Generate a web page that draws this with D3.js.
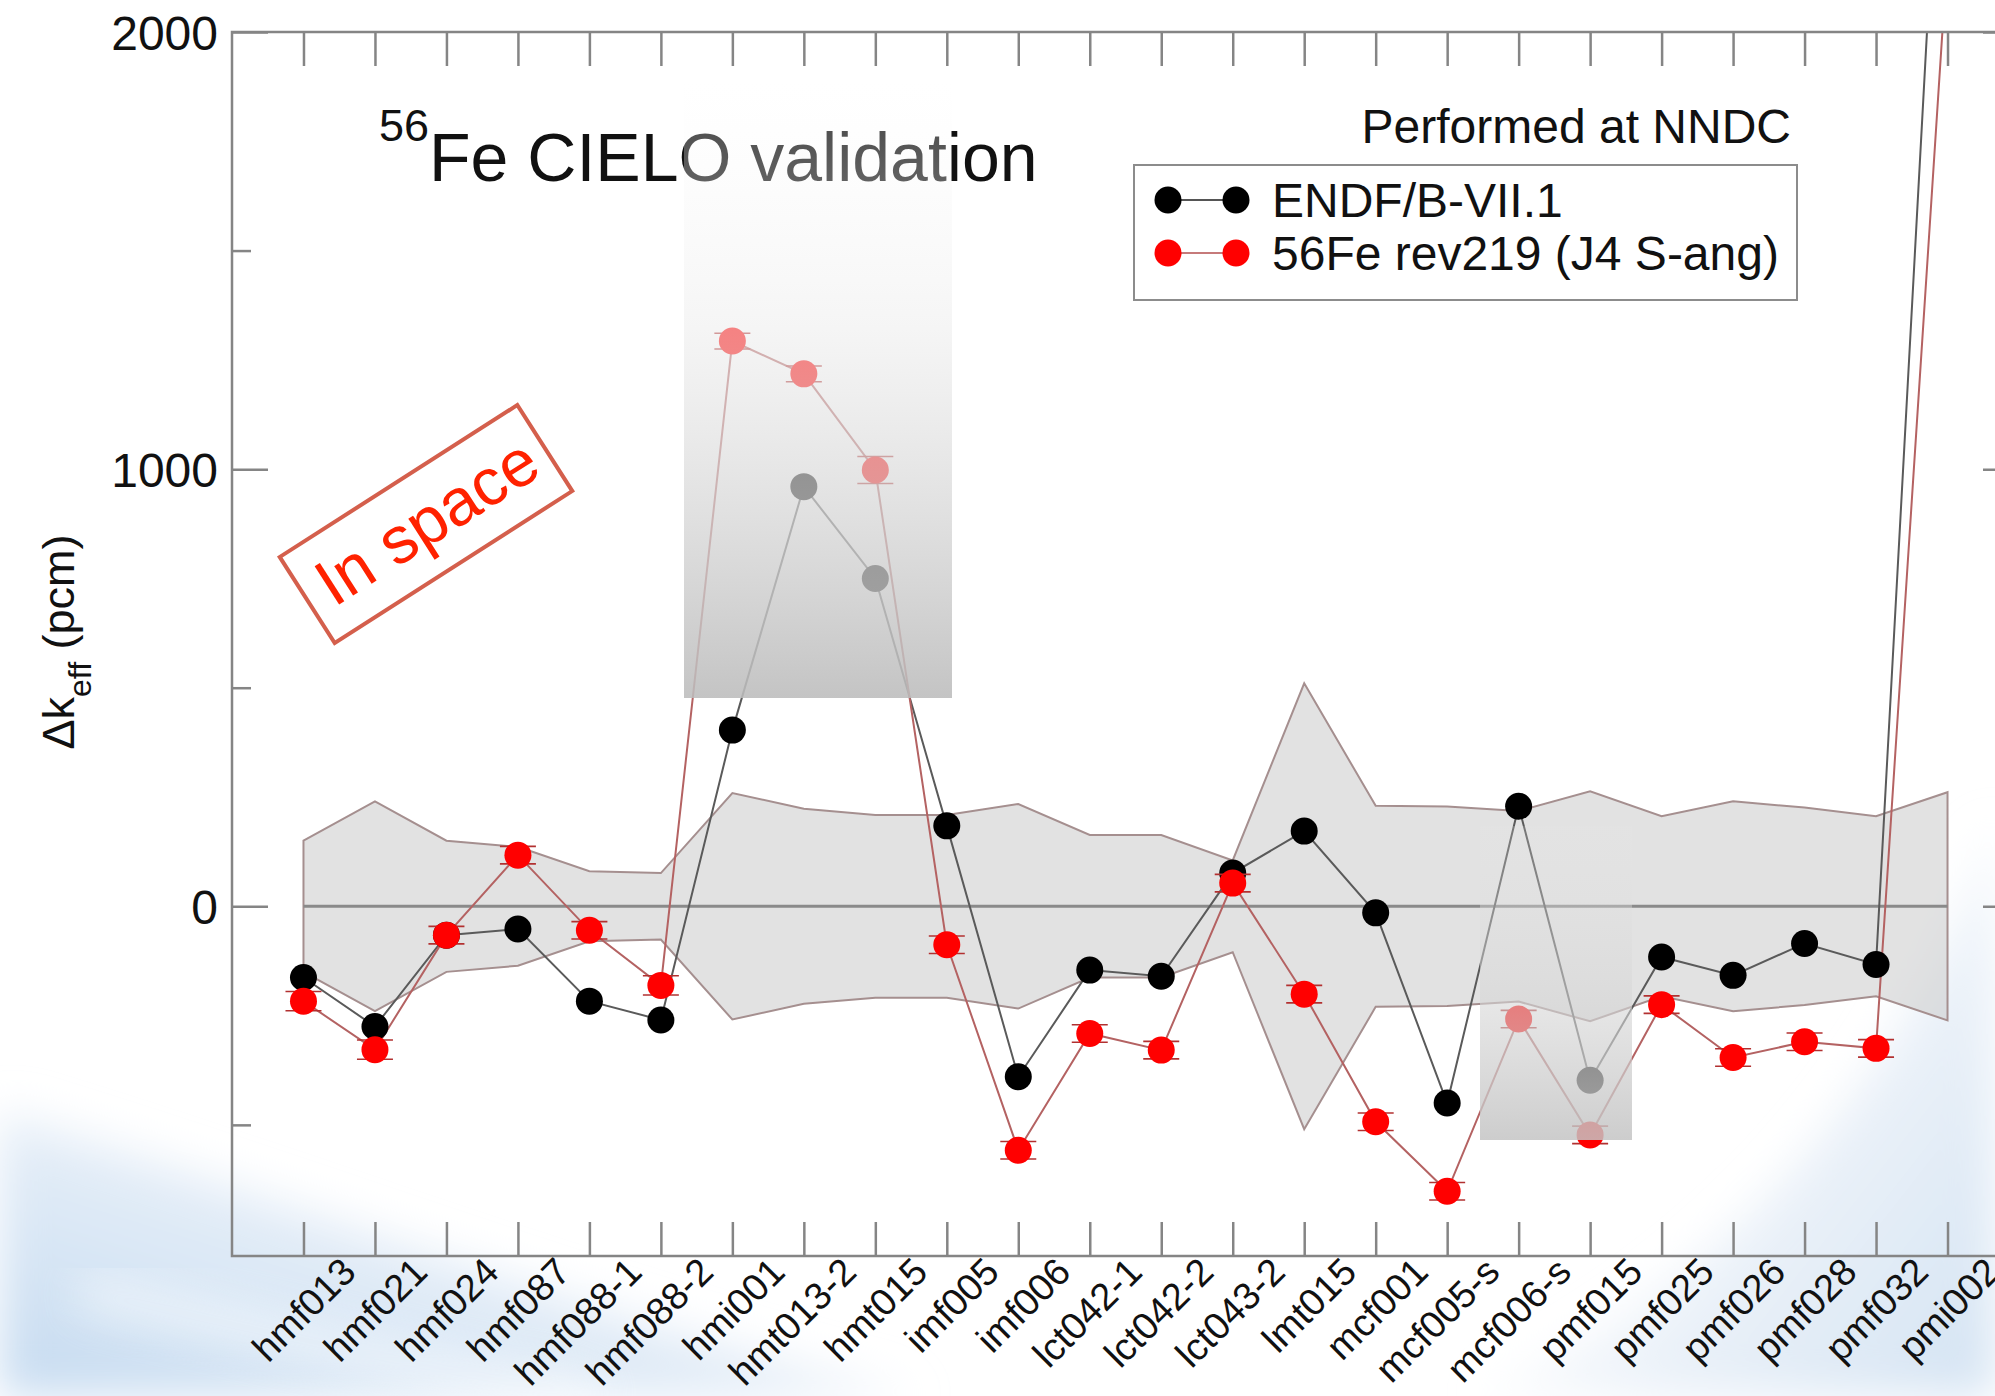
<!DOCTYPE html>
<html>
<head>
<meta charset="utf-8">
<script src="https://cdn.jsdelivr.net/npm/d3@7"></script>
<style>
body { margin: 0; background: #fff; }
text { font-family: "Liberation Sans", Arial, sans-serif; }
</style>
</head>
<body>
<div id="chart"></div>
<script>
var cats = ["hmf013","hmf021","hmf024","hmf087","hmf088-1","hmf088-2","hmi001","hmt013-2","hmt015","imf005","imf006","lct042-1","lct042-2","lct043-2","lmt015","mcf001","mcf005-s","mcf006-s","pmf015","pmf025","pmf026","pmf028","pmf032","pmi002"];
var endf = [-163,-275,-66,-52,-217,-260,403,960,750,184,-390,-146,-160,76,172,-15,-450,229,-398,-116,-158,-85,-133,2860];
var rev219 = [-217,-328,-66,117,-55,-181,1293,1218,998,-88,-558,-291,-329,53,-201,-493,-652,-258,-523,-225,-346,-310,-325,2180];
var rev219Err = [22,22,20,20,20,22,18,18,31,20,20,20,20,20,20,20,20,20,20,20,20,20,20,20];
var band = [150,240,150,136,80,76,259,223,209,209,234,163,163,105,510,230,228,218,263,206,240,226,206,261];
var yMajor = [0,1000,2000];
var yMinor = [-500,500,1500];

var W = 1995, H = 1396;
var L = 232, R = 2019, T = 32, B = 1256;

var svg = d3.select("#chart").append("svg")
  .attr("width", W).attr("height", H);

var defs = svg.append("defs");
defs.append("filter").attr("id","soft").attr("x","-20%").attr("y","-20%").attr("width","140%").attr("height","140%")
  .append("feGaussianBlur").attr("stdDeviation", 22);
defs.append("clipPath").attr("id","plotclip")
  .append("rect").attr("x",L).attr("y",T).attr("width",R-L).attr("height",B-T);

function grad(id, x1, y1, x2, y2, stops) {
  var g = defs.append("linearGradient").attr("id", id)
    .attr("x1",x1).attr("y1",y1).attr("x2",x2).attr("y2",y2);
  stops.forEach(function(s){
    g.append("stop").attr("offset",s[0]).attr("stop-color",s[1]).attr("stop-opacity",s[2]);
  });
}
grad("blueL", 0, 1, 0.8, 0.2, [[0,"#c4daf0",1],[0.55,"#e2ecf7",1],[1,"#ffffff",0]]);
grad("blueR", 1, 1, 0.2, 0.3, [[0,"#d2e2f2",1],[0.5,"#e9f0f8",0.9],[1,"#ffffff",0]]);
grad("fade1", 0, 0, 0, 1, [[0,"#ffffff",0.2],[0.4,"#ededed",0.55],[1,"#bcbcbc",0.88]]);
grad("fade2", 0, 0, 0, 1, [[0,"#e6e6e6",0.2],[0.5,"#d8d8d8",0.55],[1,"#c4c4c4",0.85]]);

// slide background swooshes
svg.append("path").attr("d","M0,1110 C300,1200 600,1320 920,1396 L0,1396 Z")
  .attr("fill","url(#blueL)").attr("filter","url(#soft)");
svg.append("path").attr("d","M80,1290 C260,1330 450,1375 600,1396")
  .attr("fill","none").attr("stroke","#ffffff").attr("stroke-width",36).attr("opacity",0.55).attr("filter","url(#soft)");
svg.append("path").attr("d","M1480,1396 C1720,1280 1890,1110 1995,820 L1995,1396 Z")
  .attr("fill","url(#blueR)").attr("filter","url(#soft)");

var x = d3.scaleLinear().domain([-1, 24]).range([L, R]);
var y = d3.scaleLinear().domain([-800, 2000]).range([B, T]);
var idx = d3.range(cats.length);

var plot = svg.append("g").attr("clip-path","url(#plotclip)");

// uncertainty band
var area = d3.area()
  .x(function(i){ return x(i); })
  .y0(function(i){ return y(-band[i]); })
  .y1(function(i){ return y(band[i]); });
plot.append("path").datum(idx).attr("d", area)
  .attr("fill","#cfcfcf").attr("fill-opacity",0.6)
  .attr("stroke","#a58f8f").attr("stroke-width",2);

plot.append("line")
  .attr("x1", x(0)).attr("x2", x(23)).attr("y1", y(0)).attr("y2", y(0))
  .attr("stroke","#8a8a8a").attr("stroke-width",3);

function lineOf(vals) {
  return d3.line().x(function(i){ return x(i); }).y(function(i){ return y(vals[i]); })(idx);
}
plot.append("path").attr("d", lineOf(endf)).attr("fill","none")
  .attr("stroke","#5a5a5a").attr("stroke-width",2);
plot.append("path").attr("d", lineOf(rev219)).attr("fill","none")
  .attr("stroke","#b46262").attr("stroke-width",2);

plot.selectAll("circle.endf").data(idx).enter().append("circle")
  .attr("class","endf")
  .attr("cx", function(i){ return x(i); })
  .attr("cy", function(i){ return y(endf[i]); })
  .attr("r", 13.5).attr("fill","#000");

var eb = plot.selectAll("g.eb").data(idx).enter().append("g").attr("class","eb")
  .attr("stroke","#b23030").attr("stroke-width",1.6);
eb.append("line")
  .attr("x1", function(i){ return x(i); }).attr("x2", function(i){ return x(i); })
  .attr("y1", function(i){ return y(rev219[i] - rev219Err[i]); })
  .attr("y2", function(i){ return y(rev219[i] + rev219Err[i]); });
[-1, 1].forEach(function(s){
  eb.append("line")
    .attr("x1", function(i){ return x(i) - 18; }).attr("x2", function(i){ return x(i) + 18; })
    .attr("y1", function(i){ return y(rev219[i] + s * rev219Err[i]); })
    .attr("y2", function(i){ return y(rev219[i] + s * rev219Err[i]); });
});

plot.selectAll("circle.rev").data(idx).enter().append("circle")
  .attr("class","rev")
  .attr("cx", function(i){ return x(i); })
  .attr("cy", function(i){ return y(rev219[i]); })
  .attr("r", 13.5).attr("fill","#ff0000");

// axes frame and ticks
var axisColor = "#858585";
function styleAxis(g) {
  g.select(".domain").remove();
  g.selectAll(".tick line").attr("stroke", axisColor).attr("stroke-width", 2.5);
  g.selectAll("text").attr("fill","#111");
}
svg.append("g").attr("transform","translate(" + L + ",0)")
  .call(d3.axisLeft(y).tickValues(yMajor).tickSize(-36).tickPadding(14).tickFormat(d3.format("d")))
  .call(styleAxis)
  .selectAll("text").style("font-size","48px").attr("dy","0.36em");
svg.append("g").attr("transform","translate(" + L + ",0)")
  .call(d3.axisLeft(y).tickValues(yMinor).tickSize(-19).tickFormat(""))
  .call(styleAxis);
svg.append("g").attr("transform","translate(" + R + ",0)")
  .call(d3.axisRight(y).tickValues(yMajor).tickSize(-36).tickFormat(""))
  .call(styleAxis);
svg.append("g").attr("transform","translate(" + R + ",0)")
  .call(d3.axisRight(y).tickValues(yMinor).tickSize(-19).tickFormat(""))
  .call(styleAxis);
svg.append("g").attr("transform","translate(0," + T + ")")
  .call(d3.axisTop(x).tickValues(idx).tickSize(-34).tickFormat(""))
  .call(styleAxis);
var xg = svg.append("g").attr("transform","translate(0," + B + ")")
  .call(d3.axisBottom(x).tickValues(idx).tickSize(-34).tickFormat(function(i){ return cats[i]; }))
  .call(styleAxis);
xg.selectAll("text")
  .attr("x", 0).attr("y", 0).attr("dy", null)
  .attr("transform","translate(54,18) rotate(-45)")
  .style("text-anchor","end").style("font-size","38px");

svg.append("rect").attr("x",L).attr("y",T).attr("width",R-L).attr("height",B-T)
  .attr("fill","none").attr("stroke",axisColor).attr("stroke-width",2.5);

// y axis title
var yt = svg.append("text").attr("transform","translate(74,642) rotate(-90)")
  .attr("text-anchor","middle").attr("fill","#111").style("font-size","45px");
yt.append("tspan").text("\u0394k");
yt.append("tspan").text("eff").attr("dy",17).style("font-size","32px");
yt.append("tspan").text(" (pcm)").attr("dy",-17);

// title
var title = svg.append("text").attr("x",379).attr("y",181).attr("fill","#111").style("font-size","68px");
title.append("tspan").text("56").attr("dy",-40).style("font-size","45px");
title.append("tspan").text("Fe CIELO validation").attr("dy",40);

// faded overlay panels
svg.append("rect").attr("x",684).attr("y",80).attr("width",268).attr("height",618).attr("fill","url(#fade1)");
svg.append("rect").attr("x",1480).attr("y",826).attr("width",152).attr("height",314).attr("fill","url(#fade2)");

svg.append("text").attr("x",1791).attr("y",143).attr("text-anchor","end")
  .attr("fill","#111").style("font-size","48px").text("Performed at NNDC");

// legend
var leg = svg.append("g");
leg.append("rect").attr("x",1134).attr("y",165).attr("width",663).attr("height",135)
  .attr("fill","#fff").attr("stroke","#8c8c8c").attr("stroke-width",2);
var legItems = [
  {label:"ENDF/B-VII.1", fill:"#000", line:"#555", yy:200},
  {label:"56Fe rev219 (J4 S-ang)", fill:"#ff0000", line:"#c67a7a", yy:253}
];
legItems.forEach(function(d){
  leg.append("line").attr("x1",1168).attr("x2",1236).attr("y1",d.yy).attr("y2",d.yy)
    .attr("stroke",d.line).attr("stroke-width",2);
  leg.append("circle").attr("cx",1168).attr("cy",d.yy).attr("r",13.5).attr("fill",d.fill);
  leg.append("circle").attr("cx",1236).attr("cy",d.yy).attr("r",13.5).attr("fill",d.fill);
  leg.append("text").attr("x",1272).attr("y",d.yy+17).attr("fill","#111")
    .style("font-size","48px").text(d.label);
});

// stamp
var stamp = svg.append("g").attr("transform","translate(426,524) rotate(-32.6)");
stamp.append("rect").attr("x",-141).attr("y",-51).attr("width",282).attr("height",102)
  .attr("fill","none").attr("stroke","#d45f4c").attr("stroke-width",4);
stamp.append("text").attr("x",2).attr("y",21).attr("text-anchor","middle")
  .attr("fill","#ff2200").style("font-size","66px").text("In space");
</script>
</body>
</html>
